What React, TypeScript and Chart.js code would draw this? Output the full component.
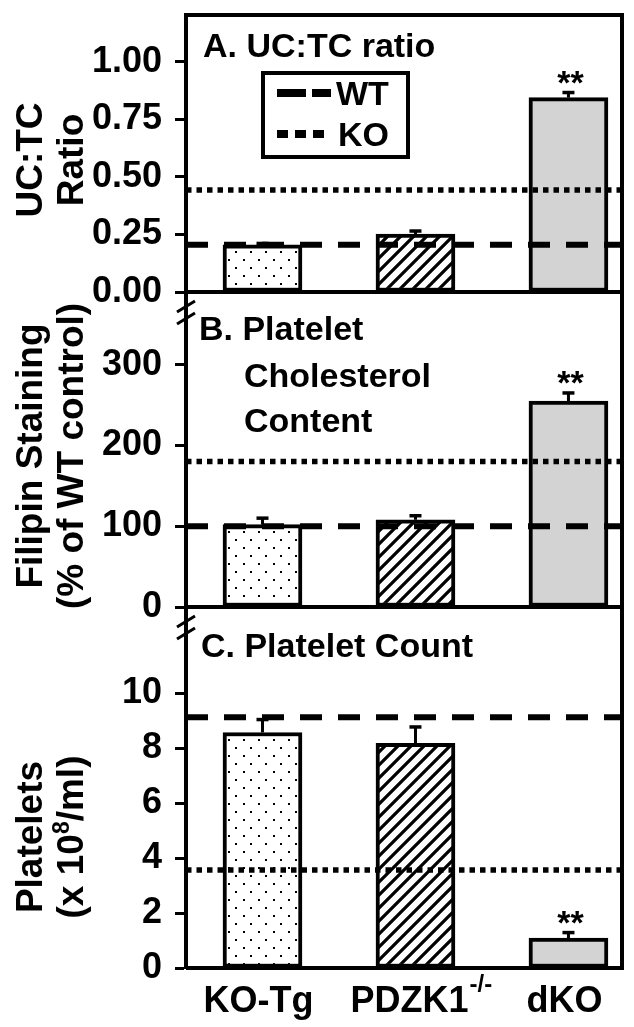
import React, { useEffect, useRef } from 'react';
import { Chart, registerables } from 'chart.js';

Chart.register(...registerables);

// ---------- data ----------
const categories = ['KO-Tg', 'PDZK1', 'dKO'];
const categorySup = ['', '-/-', ''];
const significant = [false, false, true];

const ratioValues = [0.205, 0.252, 0.845];
const ratioErrors = [0.006, 0.013, 0.022];
const ratioWT = 0.205;
const ratioKO = 0.443;
const ratioTicks = [0, 0.25, 0.5, 0.75, 1.0];

const filipinValues = [102, 108, 255];
const filipinErrors = [8, 5, 10];
const filipinWT = 100;
const filipinKO = 180;
const filipinTicks = [0, 100, 200, 300];

const countValues = [8.58, 8.18, 1.09];
const countErrors = [0.47, 0.6, 0.2];
const countWT = 9.13;
const countKO = 3.57;
const countTicks = [0, 2, 4, 6, 8, 10];

const legendLabels = ['WT', 'KO'];

// ---------- layout / style ----------
const FONT = '"Liberation Sans", Arial, Helvetica, sans-serif';
const X_MIN = -0.5;
const X_MAX = 2.35;

const panels = [
  {
    id: 'yA', max: 1.204, weight: 277, values: ratioValues, errors: ratioErrors,
    wt: ratioWT, ko: ratioKO, ticks: ratioTicks, fmt: (v: number) => v.toFixed(2),
    title: ['A. UC:TC ratio'], titleX: [203], titleDY: [42],
    yTitle: [[{ t: 'UC:TC' }], [{ t: 'Ratio' }]], yTitleY: 160,
  },
  {
    id: 'yB', max: 390, weight: 315, values: filipinValues, errors: filipinErrors,
    wt: filipinWT, ko: filipinKO, ticks: filipinTicks, fmt: (v: number) => String(v),
    title: ['B. Platelet', 'Cholesterol', 'Content'], titleX: [199, 244, 244], titleDY: [48, 95, 140],
    yTitle: [[{ t: 'Filipin Staining' }], [{ t: '(% of WT control)' }]], yTitleY: 456,
  },
  {
    id: 'yC', max: 13.15, weight: 361, values: countValues, errors: countErrors,
    wt: countWT, ko: countKO, ticks: countTicks, fmt: (v: number) => String(v),
    title: ['C. Platelet Count'], titleX: [201], titleDY: [50],
    yTitle: [[{ t: 'Platelets' }], [{ t: '(x 10' }, { t: '8', sup: true }, { t: '/ml)' }]], yTitleY: 837,
  },
];

function makeDots(ctx: CanvasRenderingContext2D) {
  const c = document.createElement('canvas');
  c.width = 15; c.height = 16;
  const g = c.getContext('2d')!;
  g.fillStyle = '#fff'; g.fillRect(0, 0, 15, 16);
  g.fillStyle = '#000';
  g.fillRect(3, 3, 2, 2);
  g.fillRect(10, 11, 2, 2);
  return ctx.createPattern(c, 'repeat')!;
}

function makeHatch(ctx: CanvasRenderingContext2D) {
  const s = 13;
  const c = document.createElement('canvas');
  c.width = s; c.height = s;
  const g = c.getContext('2d')!;
  g.fillStyle = '#fff'; g.fillRect(0, 0, s, s);
  g.strokeStyle = '#000'; g.lineWidth = 3.2;
  g.beginPath();
  g.moveTo(-2, s + 2); g.lineTo(s + 2, -2);
  g.moveTo(-2, 2); g.lineTo(2, -2);
  g.moveTo(s - 2, s + 2); g.lineTo(s + 2, s - 2);
  g.stroke();
  return ctx.createPattern(c, 'repeat')!;
}

function drawRotated(ctx: CanvasRenderingContext2D, segs: { t: string; sup?: boolean }[], cx: number, cy: number, size: number) {
  const main = `bold ${size}px ${FONT}`;
  const sup = `bold ${Math.round(size * 0.62)}px ${FONT}`;
  let total = 0;
  const widths = segs.map((s) => { ctx.font = s.sup ? sup : main; const w = ctx.measureText(s.t).width; total += w; return w; });
  ctx.save();
  ctx.translate(cx, cy);
  ctx.rotate(-Math.PI / 2);
  ctx.textAlign = 'left';
  ctx.textBaseline = 'alphabetic';
  let x = -total / 2;
  const base = size * 0.36;
  segs.forEach((s, i) => {
    ctx.font = s.sup ? sup : main;
    ctx.fillText(s.t, x, s.sup ? base - size * 0.4 : base);
    x += widths[i];
  });
  ctx.restore();
}

const overlayPlugin = {
  id: 'overlay',
  afterDatasetsDraw(chart: any) {
    const ctx: CanvasRenderingContext2D = chart.ctx;
    const { left, right, top, bottom } = chart.chartArea;
    ctx.save();
    ctx.strokeStyle = '#000';
    ctx.fillStyle = '#000';
    // frame
    ctx.lineWidth = 4;
    ctx.beginPath();
    ctx.moveTo(left - 2, top);
    ctx.lineTo(right, top);
    ctx.lineTo(right, bottom + 2);
    ctx.stroke();
    panels.forEach((p, pi) => {
      const sc = chart.scales[p.id];
      // panel baseline
      ctx.lineWidth = 4;
      ctx.beginPath();
      ctx.moveTo(left, sc.bottom);
      ctx.lineTo(right + 2, sc.bottom);
      ctx.stroke();
      // break marks
      if (pi < panels.length - 1) {
        ctx.lineWidth = 3;
        ctx.beginPath();
        for (const d of [15, 27]) {
          ctx.moveTo(left - 9, sc.bottom + d + 5);
          ctx.lineTo(left + 9, sc.bottom + d - 6);
        }
        ctx.stroke();
      }
      // error bars & stars
      const meta = chart.getDatasetMeta(pi * 3);
      p.values.forEach((v, i) => {
        const bar = meta.data[i];
        const yTop = sc.getPixelForValue(v);
        const yErr = sc.getPixelForValue(v + p.errors[i]);
        ctx.lineWidth = 3;
        ctx.beginPath();
        ctx.moveTo(bar.x, yTop);
        ctx.lineTo(bar.x, yErr);
        ctx.stroke();
        ctx.lineWidth = 3.5;
        ctx.beginPath();
        ctx.moveTo(bar.x - 6, yErr);
        ctx.lineTo(bar.x + 6, yErr);
        ctx.stroke();
        if (significant[i]) {
          ctx.font = `bold 34px ${FONT}`;
          ctx.textAlign = 'center';
          ctx.textBaseline = 'alphabetic';
          ctx.fillText('**', bar.x + 2, yErr + 1);
        }
      });
      // panel titles
      ctx.font = `bold 34px ${FONT}`;
      ctx.textAlign = 'left';
      ctx.textBaseline = 'alphabetic';
      p.title.forEach((t, i) => ctx.fillText(t, p.titleX[i], sc.top + p.titleDY[i]));
      // y titles
      drawRotated(ctx, p.yTitle[0], 29, p.yTitleY, 37);
      drawRotated(ctx, p.yTitle[1], 70, p.yTitleY, 37);
    });
    // legend
    ctx.lineWidth = 4;
    ctx.strokeRect(263, 73, 145, 84);
    ctx.lineWidth = 8;
    ctx.setLineDash([29, 6]);
    ctx.beginPath(); ctx.moveTo(277, 93); ctx.lineTo(331, 93); ctx.stroke();
    ctx.setLineDash([11, 7]);
    ctx.beginPath(); ctx.moveTo(277, 134); ctx.lineTo(326, 134); ctx.stroke();
    ctx.setLineDash([]);
    ctx.font = `bold 34px ${FONT}`;
    ctx.textAlign = 'left';
    ctx.fillText(legendLabels[0], 336, 105);
    ctx.fillText(legendLabels[1], 338, 146);
    // x labels
    const meta0 = chart.getDatasetMeta(6);
    categories.forEach((c, i) => {
      const x = meta0.data[i].x;
      ctx.font = `bold 36px ${FONT}`;
      const w = ctx.measureText(c).width;
      if (categorySup[i]) {
        const sx = x - 6 - w / 2;
        ctx.textAlign = 'left';
        ctx.fillText(c, sx, 1012);
        ctx.font = `bold 24px ${FONT}`;
        ctx.fillText(categorySup[i], sx + w + 1, 992);
      } else {
        ctx.textAlign = 'center';
        ctx.fillText(c, x - 4, 1012);
      }
    });
    ctx.restore();
  },
};

export default function App() {
  const ref = useRef<HTMLCanvasElement>(null);
  useEffect(() => {
    document.body.style.margin = '0';
    const canvas = ref.current!;
    const ctx = canvas.getContext('2d')!;
    const fills = [makeDots(ctx), makeHatch(ctx), '#d3d3d3'];

    const datasets: any[] = [];
    panels.forEach((p) => {
      datasets.push({
        type: 'bar', yAxisID: p.id, xAxisID: 'x',
        data: p.values.map((v, i) => ({ x: i, y: v })),
        backgroundColor: fills, borderColor: '#000', borderWidth: 4, borderSkipped: false,
        barThickness: 79, grouped: false, order: 2,
      });
      datasets.push({
        type: 'line', yAxisID: p.id, xAxisID: 'x',
        data: [{ x: X_MIN, y: p.wt }, { x: X_MAX, y: p.wt }],
        borderColor: '#000', borderWidth: 6, borderDash: [22, 16], borderCapStyle: 'butt',
        pointRadius: 0, fill: false, order: 0,
      });
      datasets.push({
        type: 'line', yAxisID: p.id, xAxisID: 'x',
        data: [{ x: X_MIN, y: p.ko }, { x: X_MAX, y: p.ko }],
        borderColor: '#000', borderWidth: 5.5, borderDash: [5.5, 5], borderCapStyle: 'butt',
        pointRadius: 0, fill: false, order: 0,
      });
    });

    const scales: any = {
      x: { type: 'linear', min: X_MIN, max: X_MAX, offset: false, display: false, grid: { offset: false } },
    };
    [...panels].reverse().forEach((p) => {
      scales[p.id] = {
        type: 'linear', position: 'left', stack: 'panels', stackWeight: p.weight,
        weight: panels.length - panels.indexOf(p),
        min: 0, max: p.max,
        afterBuildTicks: (s: any) => { s.ticks = p.ticks.map((v) => ({ value: v })); },
        afterFit: (s: any) => { s.width = 186; s.paddingTop = 0; s.paddingBottom = 0; },
        ticks: {
          color: '#000', padding: 13, autoSkip: false, font: { family: FONT, size: 36, weight: 'bold' },
          callback: (v: number) => p.fmt(v),
        },
        grid: { display: true, drawOnChartArea: false, drawTicks: true, tickLength: 11, tickWidth: 3, tickColor: '#000' },
        border: { display: true, color: '#000', width: 4 },
      };
    });

    const chart = new Chart(canvas, {
      type: 'bar',
      data: { datasets },
      options: {
        responsive: false,
        animation: false,
        devicePixelRatio: 1,
        layout: { padding: { left: 0, right: 12, top: 15, bottom: 59 } },
        plugins: { legend: { display: false }, tooltip: { enabled: false } },
        scales,
      },
      plugins: [overlayPlugin],
    } as any);
    return () => chart.destroy();
  }, []);
  return (
    <div style={{ width: 634, height: 1027 }}>
      <canvas ref={ref} width={634} height={1027} style={{ display: 'block' }} />
    </div>
  );
}
